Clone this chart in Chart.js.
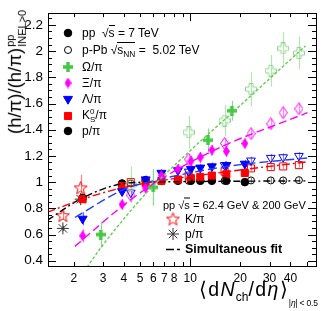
<!DOCTYPE html>
<html>
<head>
<meta charset="utf-8">
<script src="https://cdn.jsdelivr.net/npm/chart.js@4.4.0/dist/chart.umd.min.js"></script>
<style>
  body { margin: 0; background: #fff; }
  #wrap { position: relative; width: 323px; height: 311px; font-family: "Liberation Sans", Arial, sans-serif; color: #000; }
  #c { position: absolute; left: 0; top: 0; }
  .lab { position: absolute; white-space: nowrap; line-height: 1; transform: translateY(-50%); }
  .ov { border-top: 1px solid #000; padding-top: 0; }
  .ss { display: inline-block; vertical-align: middle; font-size: 11px; line-height: 1.1; margin-left: 1px; }
  .ss span { display: block; }
  sub, sup { font-size: 70%; line-height: 0; }
</style>
</head>
<body>
<div id="wrap">
  <canvas id="c" width="323" height="311"></canvas>

  <!-- axis titles -->
  <div class="lab" style="left:16px;top:72px;font-size:18.5px;transform:translate(-50%,-50%) rotate(-90deg)">(h/π)/(h/π)<span class="ss"><span>pp</span><span>INEL&gt;0</span></span></div>
  <div class="lab" style="left:199px;top:290px;font-size:19.5px;letter-spacing:1.3px">⟨d<i>N</i><sub style="font-size:12px;letter-spacing:0">ch</sub>/d<i>η</i>⟩<span style="font-size:8.5px;letter-spacing:-0.2px;position:relative;top:10px;margin-left:0">|<i>η</i>| &lt; 0.5</span></div>

  <!-- legend 1 -->
  <div class="lab" style="left:82px;top:33px;font-size:12px">pp &nbsp;√<span class="ov">s</span> = 7 TeV</div>
  <div class="lab" style="left:82px;top:50px;font-size:12px">p-Pb √<span class="ov">s<sub>NN</sub></span> = &nbsp;5.02 TeV</div>
  <div class="lab" style="left:82px;top:67px;font-size:12px">Ω/π</div>
  <div class="lab" style="left:82px;top:83px;font-size:12px">Ξ/π</div>
  <div class="lab" style="left:82px;top:99px;font-size:12px">Λ/π</div>
  <div class="lab" style="left:82px;top:116px;font-size:12px">K<span style="display:inline-block;vertical-align:middle;font-size:8px;line-height:1"><span style="display:block">0</span><span style="display:block">S</span></span>/π</div>
  <div class="lab" style="left:82px;top:131px;font-size:12px">p/π</div>

  <!-- legend 2 -->
  <div class="lab" style="left:163px;top:205px;font-size:11px">pp √<span class="ov">s</span> = 62.4 GeV &amp; 200 GeV</div>
  <div class="lab" style="left:185px;top:219px;font-size:12px">K/π</div>
  <div class="lab" style="left:185px;top:234px;font-size:12px">p/π</div>
  <div class="lab" style="left:185px;top:249px;font-size:12.5px;font-weight:bold">Simultaneous fit</div>
</div>

<script>
// axis ranges and ticks
const xMin = 1.4, xMax = 57;
const yMin = 0.36, yMax = 2.29;
const xTickValues = [2, 3, 4, 5, 6, 7, 8, 10, 20, 30, 40];
const xMinorTicks = [2, 3, 4, 5, 6, 7, 8, 9, 20, 30, 40, 50];
const xMajorTicks = [10];
const yTickValues = [0.4, 0.6, 0.8, 1, 1.2, 1.4, 1.6, 1.8, 2, 2.2];

// pp 7 TeV multiplicity classes
const ppX = [2.26, 3.90, 5.40, 6.72, 8.45, 10.1, 11.5, 13.5, 16.5, 21.3];
const ppProton = [0.88, 0.99, 1.015, 1.01, 1.01, 1.01, 1.01, 1.01, 1.01, 1.0];
const ppProtonErr = [0.02, 0.02, 0.02, 0.02, 0.02, 0.02, 0.02, 0.02, 0.02, 0.02];
const ppK0s = [0.87, 0.97, 0.995, 1.01, 1.02, 1.03, 1.04, 1.05, 1.06, 1.07];
const ppK0sErr = [0.02, 0.02, 0.02, 0.02, 0.02, 0.02, 0.02, 0.02, 0.02, 0.02];
const ppLambda = [0.72, 0.93, 1.02, 1.07, 1.09, 1.10, 1.11, 1.12, 1.13, 1.14];
const ppLambdaErr = [0.05, 0.03, 0.03, 0.03, 0.03, 0.03, 0.03, 0.03, 0.03, 0.03];
const ppXi = [0.59, 0.83, 0.955, 1.05, 1.10, 1.16, 1.19, 1.245, 1.235, 1.295];
const ppXiErr = [0.05, 0.04, 0.04, 0.04, 0.04, 0.04, 0.04, 0.04, 0.04, 0.04];
const ppOmegaX = [2.9, 6.0, 12.8, 17.8];
const ppOmega = [0.60, 0.96, 1.32, 1.545];
const ppOmegaErr = [0.10, 0.14, 0.09, 0.075];

// p-Pb 5.02 TeV multiplicity classes
const pPbX = [4.4, 9.8, 16.1, 23.2, 30.5, 36.2, 45.0];
const pPbProton = [0.99, 1.01, 1.01, 1.013, 1.013, 1.013, 1.015];
const pPbProtonErr = [0.02, 0.02, 0.02, 0.02, 0.02, 0.02, 0.02];
const pPbK0s = [1.0, 1.05, 1.08, 1.105, 1.115, 1.12, 1.13];
const pPbK0sErr = [0.02, 0.02, 0.02, 0.02, 0.02, 0.02, 0.02];
const pPbLambda = [0.92, 1.08, 1.13, 1.165, 1.185, 1.19, 1.20];
const pPbLambdaErr = [0.03, 0.03, 0.03, 0.03, 0.03, 0.03, 0.03];
const pPbXi = [0.90, 1.175, 1.295, 1.37, 1.445, 1.53, 1.56];
const pPbXiErr = [0.04, 0.04, 0.04, 0.04, 0.04, 0.04, 0.04];
const pPbOmega = [0.98, 1.38, 1.47, 1.71, 1.85, 2.02, 1.985];
const pPbOmegaErr = [0.14, 0.125, 0.12, 0.13, 0.12, 0.125, 0.125];

// pp 62.4 GeV and 200 GeV
const rhicX = [1.72, 2.2];
const rhicKaon = [0.745, 0.957];
const rhicKaonErr = [0.03, 0.10];
const rhicProton = [0.647, 0.87];
const rhicProtonErr = [0.02, 0.03];

// simultaneous fit curves
const fitOmegaX = [2.40, 2.91, 4.06, 5.58, 10.0, 17.9, 49.3];
const fitOmega = [0.35, 0.50, 0.73, 0.93, 1.24, 1.53, 2.04];
const fitXiX = [2.03, 3.94, 5.58, 8.71, 16.7, 34.8, 50.7];
const fitXi = [0.51, 0.82, 0.96, 1.11, 1.29, 1.45, 1.53];
const fitLambdaX = [2.03, 4.0, 5.58, 16.7, 50.7];
const fitLambda = [0.73, 0.945, 1.0, 1.12, 1.185];
const fitK0sX = [1.39, 2.26, 4.0, 16.7, 50.7];
const fitK0s = [0.77, 0.87, 0.96, 1.08, 1.155];
const fitProtonX = [1.39, 2.26, 4.0, 5.7, 11.5, 50.7];
const fitProton = [0.71, 0.88, 0.99, 1.0, 1.005, 1.01];

const GREEN = '#44c844', LIGHTGREEN = '#8ed88e', MAGENTA = '#ff00ff', BLUE = '#0000ff', RED = '#ff0000';

// custom marker images
function marker(w, h, draw) {
  const c = document.createElement('canvas');
  c.width = w; c.height = h;
  draw(c.getContext('2d'), w, h);
  return c;
}
function plusPath(g, s, a) {
  const h = s / 2, c = s / 2;
  const p = [[-a,-h],[a,-h],[a,-a],[h,-a],[h,a],[a,a],[a,h],[-a,h],[-a,a],[-h,a],[-h,-a],[-a,-a]];
  g.beginPath();
  p.forEach((q, i) => i ? g.lineTo(c + q[0], c + q[1]) : g.moveTo(c + q[0], c + q[1]));
  g.closePath();
}
const crossFilled = marker(10, 10, (g) => { plusPath(g, 10, 1.7); g.fillStyle = GREEN; g.fill(); });
const crossOpen = marker(12, 12, (g) => {
  g.translate(0.5, 0.5); plusPath(g, 11, 2); g.strokeStyle = LIGHTGREEN; g.lineWidth = 1; g.stroke();
});
function diamondPath(g, w, h) {
  g.beginPath(); g.moveTo(w / 2, 0); g.lineTo(w, h / 2); g.lineTo(w / 2, h); g.lineTo(0, h / 2); g.closePath();
}
const diamondFilled = marker(7, 11, (g, w, h) => { diamondPath(g, w, h); g.fillStyle = MAGENTA; g.fill(); });
const diamondOpen = marker(9, 13, (g) => {
  g.translate(0.5, 0.5); diamondPath(g, 8, 12); g.strokeStyle = MAGENTA; g.lineWidth = 1; g.stroke();
});
const starOpen = marker(15, 15, (g) => {
  g.translate(7.5, 8);
  g.beginPath();
  for (let i = 0; i < 10; i++) {
    const r = i % 2 ? 2.8 : 6.8;
    const a = -Math.PI / 2 + i * Math.PI / 5;
    const px = r * Math.cos(a), py = r * Math.sin(a);
    i ? g.lineTo(px, py) : g.moveTo(px, py);
  }
  g.closePath();
  g.strokeStyle = RED; g.lineWidth = 1; g.stroke();
});

const toXY = (xs, ys) => xs.map((x, i) => ({ x: x, y: ys[i] }));

function pts(label, xs, ys, errs, style, extra) {
  return Object.assign({
    label: label, type: 'scatter', data: toXY(xs, ys), errors: errs,
    pointStyle: style, showLine: false, order: 1
  }, extra);
}
function fit(xs, ys, color, dash) {
  return {
    type: 'line', data: toXY(xs, ys), showLine: true, borderColor: color, borderWidth: 1.4,
    borderDash: dash, pointRadius: 0, fill: false, cubicInterpolationMode: 'monotone', order: 0
  };
}

const datasets = [
  fit(fitOmegaX, fitOmega, '#66cc55', [3, 2]),
  fit(fitXiX, fitXi, MAGENTA, [8, 4]),
  fit(fitLambdaX, fitLambda, '#2040ff', [9, 4]),
  fit(fitK0sX, fitK0s, RED, [8, 3, 2, 3]),
  fit(fitProtonX, fitProton, '#000', [7, 3, 2, 3]),

  pts('pPb Omega', pPbX, pPbOmega, pPbOmegaErr, crossOpen, { errColor: '#b5e6b0' }),
  pts('pPb Xi', pPbX, pPbXi, pPbXiErr, diamondOpen, { errColor: '#ff88ff' }),
  pts('pPb Lambda', pPbX, pPbLambda, pPbLambdaErr, 'triangle',
      { rotation: 180, radius: 5, borderColor: BLUE, backgroundColor: 'rgba(0,0,0,0)', borderWidth: 1, errColor: '#8888ff' }),
  pts('pPb K0s', pPbX, pPbK0s, pPbK0sErr, 'rect',
      { radius: 5, borderColor: RED, backgroundColor: 'rgba(0,0,0,0)', borderWidth: 1, errColor: '#ff8888' }),
  pts('pPb p', pPbX, pPbProton, pPbProtonErr, 'circle',
      { radius: 3.5, borderColor: '#000', backgroundColor: 'rgba(0,0,0,0)', borderWidth: 1, errColor: '#888' }),

  pts('pp Omega', ppOmegaX, ppOmega, ppOmegaErr, crossFilled, { errColor: '#88dd88' }),
  pts('pp Xi', ppX, ppXi, ppXiErr, diamondFilled, { errColor: '#ff66ff' }),
  pts('pp Lambda', ppX, ppLambda, ppLambdaErr, 'triangle',
      { rotation: 180, radius: 5.2, borderColor: BLUE, backgroundColor: BLUE, borderWidth: 1, errColor: '#6666ff' }),
  pts('pp K0s', ppX, ppK0s, ppK0sErr, 'rect',
      { radius: 5, borderColor: RED, backgroundColor: RED, borderWidth: 1, errColor: '#ff6666' }),
  pts('pp p', ppX, ppProton, ppProtonErr, 'circle',
      { radius: 3.8, borderColor: '#000', backgroundColor: '#000', borderWidth: 1, errColor: '#555' }),

  pts('rhic K', rhicX, rhicKaon, rhicKaonErr, starOpen, { errColor: '#ff8080' }),
  pts('rhic p', rhicX, rhicProton, rhicProtonErr, 'star',
      { radius: 6, borderColor: '#333', borderWidth: 1, errColor: '#666' })
];

// vertical error bars under the markers
const errorBars = {
  id: 'errorBars',
  beforeDatasetsDraw(chart) {
    const ctx = chart.ctx, ys = chart.scales.y;
    ctx.save();
    chart.data.datasets.forEach((ds, i) => {
      if (!ds.errors) return;
      const meta = chart.getDatasetMeta(i);
      ctx.strokeStyle = ds.errColor || '#000';
      ctx.lineWidth = 1.2;
      meta.data.forEach((el, j) => {
        const v = ds.data[j].y, e = ds.errors[j];
        ctx.beginPath();
        ctx.moveTo(Math.round(el.x) + 0.5, ys.getPixelForValue(v - e));
        ctx.lineTo(Math.round(el.x) + 0.5, ys.getPixelForValue(v + e));
        ctx.stroke();
      });
    });
    ctx.restore();
  }
};

// ROOT style frame with inward ticks
const frameTicks = {
  id: 'frameTicks',
  afterDraw(chart) {
    const ctx = chart.ctx, a = chart.chartArea, xs = chart.scales.x, ys = chart.scales.y;
    ctx.save();
    ctx.strokeStyle = '#000';
    ctx.lineWidth = 1;
    ctx.strokeRect(Math.round(a.left) + 0.5, Math.round(a.top) + 0.5, Math.round(a.right - a.left), Math.round(a.bottom - a.top));
    ctx.beginPath();
    const xt = (v, len) => {
      const px = Math.round(xs.getPixelForValue(v)) + 0.5;
      ctx.moveTo(px, a.bottom); ctx.lineTo(px, a.bottom - len);
      ctx.moveTo(px, a.top); ctx.lineTo(px, a.top + len);
    };
    xMinorTicks.forEach(v => xt(v, 4));
    xMajorTicks.forEach(v => xt(v, 8));
    for (let k = 0; k * 0.05 + 0.4 <= yMax + 1e-9; k++) {
      const v = 0.4 + k * 0.05;
      const len = k % 4 === 0 ? 8 : 4;
      const py = Math.round(ys.getPixelForValue(v)) + 0.5;
      ctx.moveTo(a.left, py); ctx.lineTo(a.left + len, py);
      ctx.moveTo(a.right, py); ctx.lineTo(a.right - len, py);
    }
    ctx.stroke();
    ctx.restore();
  }
};

// legend markers drawn with the chart's own point renderer
const legendMarks = {
  id: 'legendMarks',
  afterDraw(chart) {
    const ctx = chart.ctx;
    const draw = (style, x, y, fillC, strokeC, opts) => {
      ctx.save();
      ctx.fillStyle = fillC; ctx.strokeStyle = strokeC; ctx.lineWidth = 1;
      Chart.helpers.drawPoint(ctx, Object.assign({ pointStyle: style, radius: 4, rotation: 0, borderWidth: 1 }, opts), x, y);
      ctx.restore();
    };
    draw('circle', 68, 33, '#000', '#000', { radius: 3.8 });
    draw('circle', 68, 50, 'rgba(0,0,0,0)', '#000', { radius: 3.5 });
    draw(crossFilled, 68, 67, GREEN, GREEN, {});
    draw(diamondFilled, 68, 83, MAGENTA, MAGENTA, {});
    draw('triangle', 68, 99, BLUE, BLUE, { rotation: 180, radius: 5.2 });
    draw('rect', 68, 116, RED, RED, { radius: 5 });
    draw('circle', 68, 131, '#000', '#000', { radius: 3.8 });
    draw(starOpen, 173, 219, 'rgba(0,0,0,0)', RED, {});
    draw('star', 173, 234, 'rgba(0,0,0,0)', '#333', { radius: 6 });
    ctx.save();
    ctx.strokeStyle = '#000'; ctx.lineWidth = 1.4; ctx.setLineDash([8, 3, 3, 3]);
    ctx.beginPath(); ctx.moveTo(166, 249.5); ctx.lineTo(183, 249.5); ctx.stroke();
    ctx.restore();
  }
};

new Chart(document.getElementById('c'), {
  type: 'scatter',
  data: { datasets: datasets },
  options: {
    responsive: false,
    devicePixelRatio: 1,
    animation: false,
    layout: { padding: { left: 0, top: 9, right: 7, bottom: 0 } },
    plugins: { legend: { display: false }, tooltip: { enabled: false } },
    scales: {
      x: {
        type: 'logarithmic', min: xMin, max: xMax,
        grid: { display: false, drawTicks: false },
        border: { display: false },
        afterBuildTicks: s => { s.ticks = xTickValues.map(v => ({ value: v })); },
        afterFit: s => { s.height = 45; },
        ticks: {
          autoSkip: false, maxRotation: 0, padding: 5, color: '#000',
          font: { family: '"Liberation Sans", Arial, sans-serif', size: 12 },
          callback: v => String(v)
        }
      },
      y: {
        type: 'linear', min: yMin, max: yMax,
        grid: { display: false, drawTicks: false },
        border: { display: false },
        afterBuildTicks: s => { s.ticks = yTickValues.map(v => ({ value: v })); },
        afterFit: s => { s.width = 48; },
        ticks: {
          padding: 5, color: '#000',
          font: { family: '"Liberation Sans", Arial, sans-serif', size: 13.5 },
          callback: v => (Math.abs(v - Math.round(v)) < 1e-9 ? String(Math.round(v)) : v.toFixed(1))
        }
      }
    }
  },
  plugins: [errorBars, frameTicks, legendMarks]
});
</script>
</body>
</html>
